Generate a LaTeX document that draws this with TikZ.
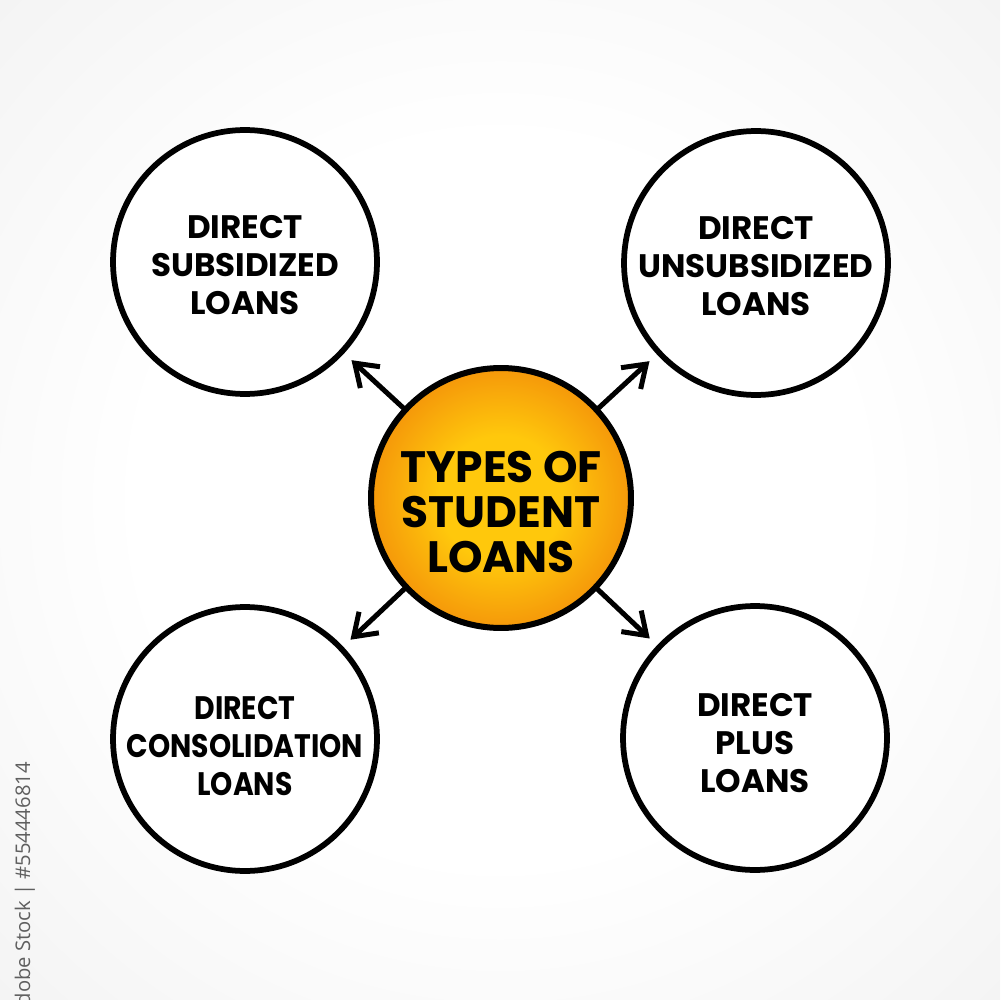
\documentclass[tikz,border=0pt]{standalone}
\usepackage{fontspec}
\setmainfont{Poppins}
\newfontfamily\narrowfont{Poppins}[FakeStretch=0.87]
\newfontfamily\wmfont{Open Sans}
\usetikzlibrary{arrows.meta}
\definecolor{bgedge}{RGB}{228,228,228}
\definecolor{orin}{RGB}{255,200,12}
\definecolor{orout}{RGB}{245,152,10}
\definecolor{wmgray}{RGB}{95,95,95}
\pgfdeclareradialshading{bgshade}{\pgfpoint{0bp}{0bp}}{color(0bp)=(white); color(18bp)=(white); color(50bp)=(bgedge!75); color(72bp)=(bgedge)}
\pgfdeclareradialshading{orshade}{\pgfpoint{0bp}{0bp}}{color(0bp)=(orin); color(12bp)=(orin); color(25bp)=(orout); color(50bp)=(orout)}
\tikzset{
  subcircle/.style={circle, draw=black, line width=0.115cm, fill=white, minimum size=5.28cm, inner sep=0pt},
  subtext/.style={align=center, inner sep=0pt, font=\bfseries\fontsize{18.5}{21.8}\selectfont},
  maincircle/.style={circle, draw=black, line width=0.12cm, shading=orshade, minimum size=5.2cm, inner sep=0pt},
  maintext/.style={align=center, inner sep=0pt, font=\bfseries\fontsize{25}{25.8}\selectfont},
  arr/.style={line width=0.1cm, line cap=round, line join=round, -{Straight Barb[length=0.42cm, width=0.58cm, line width=0.1cm]}, shorten >=0.2cm},
  watermark/.style={font=\wmfont\fontsize{11.5}{14}\selectfont, text=wmgray, rotate=90, anchor=east, inner sep=0pt}
}
\begin{document}
\begin{tikzpicture}[x=0.02cm, y=-0.02cm]
\useasboundingbox (0,0) rectangle (1000,1000);
\shade[shading=bgshade] (0,0) rectangle (1000,1000);
\node[watermark] (wm) at (25,762) {Adobe Stock | \#554446814};
\node[maincircle] (c) at (501,498) {};
\node[maintext] (ct) at (501,512) {TYPES OF\\STUDENT\\LOANS};
\node[subcircle] (tl) at (245,262) {};
\node[subcircle] (tr) at (756,263) {};
\node[subcircle] (bl) at (245,739) {};
\node[subcircle] (br) at (755,738) {};
\node[subtext] (tlt) at (245,265) {DIRECT\\SUBSIDIZED\\LOANS};
\node[subtext] (trt) at (756,266) {DIRECT\\UNSUBSIDIZED\\LOANS};
\node[subtext, font=\narrowfont\bfseries\fontsize{18.5}{21.8}\selectfont] (blt) at (245,746) {DIRECT\\CONSOLIDATION\\LOANS};
\node[subtext] (brt) at (755,743) {DIRECT\\PLUS\\LOANS};
\draw[arr] (c) -- (tl);
\draw[arr] (c) -- (tr);
\draw[arr] (c) -- (bl);
\draw[arr] (c) -- (br);
\end{tikzpicture}
\end{document}
